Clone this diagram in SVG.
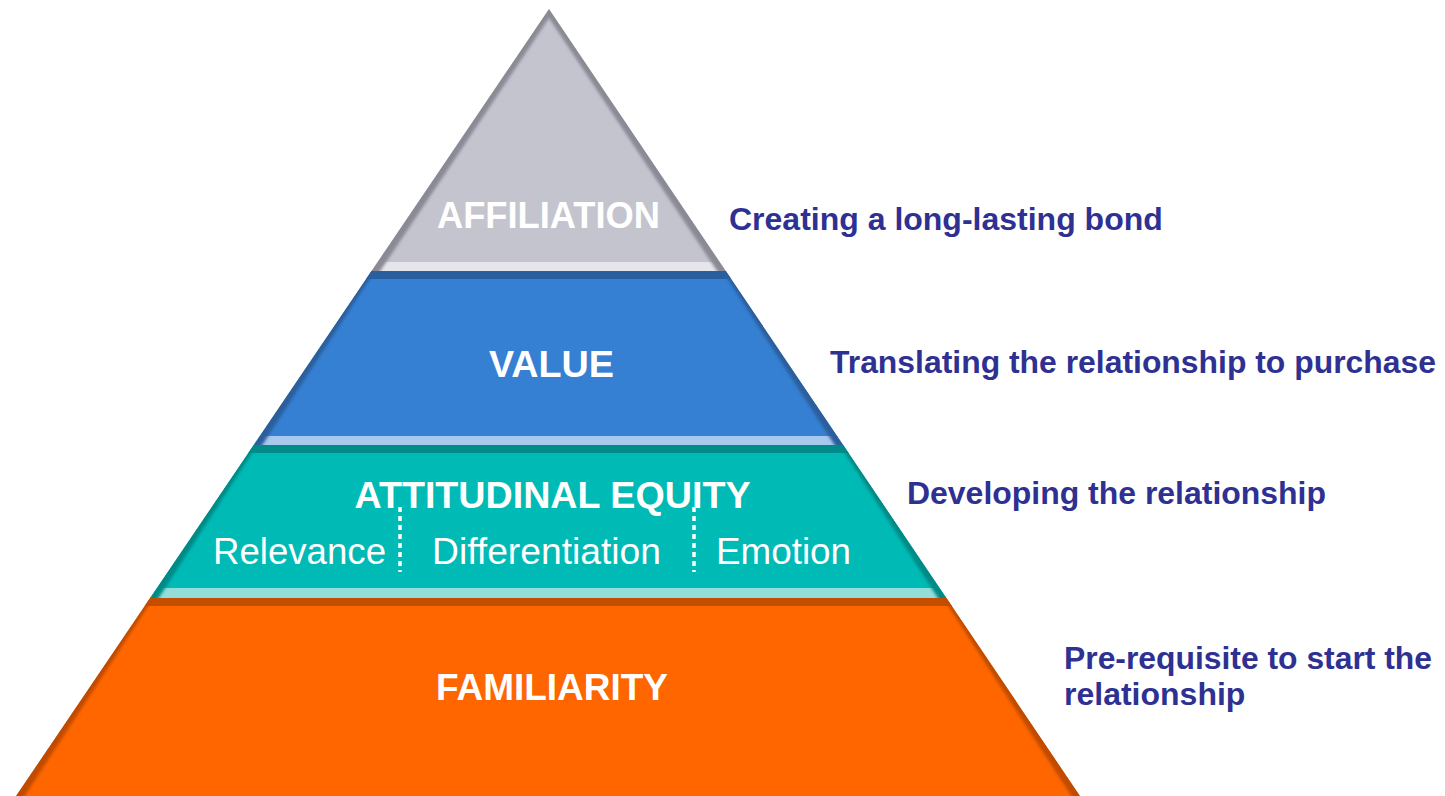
<svg xmlns="http://www.w3.org/2000/svg" width="1445" height="796" viewBox="0 0 1445 796">
  <defs>
    <style>
      .tier { font-family: "Liberation Sans", Arial, sans-serif; font-weight: bold; fill: #ffffff; text-anchor: middle; }
      .sub { font-family: "Liberation Sans", Arial, sans-serif; font-weight: normal; fill: #ffffff; font-size: 36px; }
      .note { font-family: "Liberation Sans", Arial, sans-serif; font-weight: bold; fill: #2E3192; font-size: 32px; }
      .edge { fill: none; stroke-width: 10; filter: url(#soft); }
      .divider { stroke: #ffffff; stroke-width: 3.5; stroke-dasharray: 5 4; fill: none; }
    </style>
    <filter id="soft" x="-10%" y="-10%" width="120%" height="120%">
      <feGaussianBlur stdDeviation="1.8"/>
    </filter>
    <clipPath id="clipAff"><polygon points="549,9 725.8,271 371.5,271"/></clipPath>
    <clipPath id="clipVal"><polygon points="371.5,271 725.8,271 843.2,445 253.7,445"/></clipPath>
    <clipPath id="clipAtt"><polygon points="253.7,445 843.2,445 946.4,598 150.1,598"/></clipPath>
    <clipPath id="clipFam"><polygon points="150.1,598 946.4,598 1080,796 16,796"/></clipPath>
  </defs>

  <rect width="1445" height="796" fill="#ffffff"/>

  <!-- top tier -->
  <g id="affiliation">
    <g clip-path="url(#clipAff)">
      <polygon points="549,9 725.8,271 371.5,271" fill="#C3C4CE"/>
      <rect x="360" y="262" width="380" height="9" fill="#E5E5EB"/>
      <polyline class="edge" points="371.5,275 549,9 725.8,275" stroke="#8A8A95"/>
    </g>
    <text class="tier" x="548.5" y="228" font-size="36.5" textLength="223" lengthAdjust="spacingAndGlyphs">AFFILIATION</text>
  </g>

  <!-- second tier -->
  <g id="value">
    <g clip-path="url(#clipVal)">
      <polygon points="371.5,271 725.8,271 843.2,445 253.7,445" fill="#3580D3"/>
      <rect x="240" y="271" width="620" height="8" fill="#2A5F9F"/>
      <rect x="240" y="436" width="620" height="9" fill="#A9C8EE"/>
      <polyline class="edge" points="253.7,449 371.5,267" stroke="#2A5E9C"/>
      <polyline class="edge" points="843.2,449 725.8,267" stroke="#2A5E9C"/>
    </g>
    <text class="tier" x="551.5" y="377" font-size="37" textLength="125" lengthAdjust="spacingAndGlyphs">VALUE</text>
  </g>

  <!-- third tier, with its three sub-dimensions -->
  <g id="attitudinal-equity">
    <g clip-path="url(#clipAtt)">
      <polygon points="253.7,445 843.2,445 946.4,598 150.1,598" fill="#00BAB6"/>
      <rect x="140" y="445" width="820" height="8" fill="#008B88"/>
      <rect x="140" y="588" width="820" height="10" fill="#93DDDA"/>
      <polyline class="edge" points="150.1,602 253.7,441" stroke="#008A86"/>
      <polyline class="edge" points="946.4,602 843.2,441" stroke="#008A86"/>
    </g>
    <text class="tier" x="552.5" y="508" font-size="37" textLength="396" lengthAdjust="spacingAndGlyphs">ATTITUDINAL EQUITY</text>
    <line class="divider" x1="400" y1="507" x2="400" y2="572"/>
    <line class="divider" x1="694" y1="507" x2="694" y2="572"/>
    <text class="sub" x="213" y="564" textLength="173" lengthAdjust="spacingAndGlyphs">Relevance</text>
    <text class="sub" x="432" y="564" textLength="229" lengthAdjust="spacingAndGlyphs">Differentiation</text>
    <text class="sub" x="716" y="564" textLength="135" lengthAdjust="spacingAndGlyphs">Emotion</text>
  </g>

  <!-- base tier -->
  <g id="familiarity">
    <g clip-path="url(#clipFam)">
      <polygon points="150.1,598 946.4,598 1080,796 16,796" fill="#FF6600"/>
      <rect x="0" y="598" width="1100" height="8" fill="#C44E00"/>
      <polyline class="edge" points="16,800 150.1,594" stroke="#C04C00"/>
      <polyline class="edge" points="1080,800 946.4,594" stroke="#C04C00"/>
    </g>
    <text class="tier" x="552" y="700" font-size="37" textLength="232" lengthAdjust="spacingAndGlyphs">FAMILIARITY</text>
  </g>

  <!-- descriptions beside each tier -->
  <g id="notes">
    <text id="note-affiliation" class="note" x="729" y="230">Creating a long-lasting bond</text>
    <text id="note-value" class="note" x="830" y="373" textLength="606" lengthAdjust="spacingAndGlyphs">Translating the relationship to purchase</text>
    <text id="note-attitudinal" class="note" x="907" y="504" textLength="419" lengthAdjust="spacingAndGlyphs">Developing the relationship</text>
    <text id="note-familiarity" class="note" x="1064" y="669" textLength="368" lengthAdjust="spacingAndGlyphs">Pre-requisite to start the</text>
    <text class="note" x="1064" y="705">relationship</text>
  </g>

  <!-- no connectors in this figure -->
  <g id="connectors"/>
</svg>
